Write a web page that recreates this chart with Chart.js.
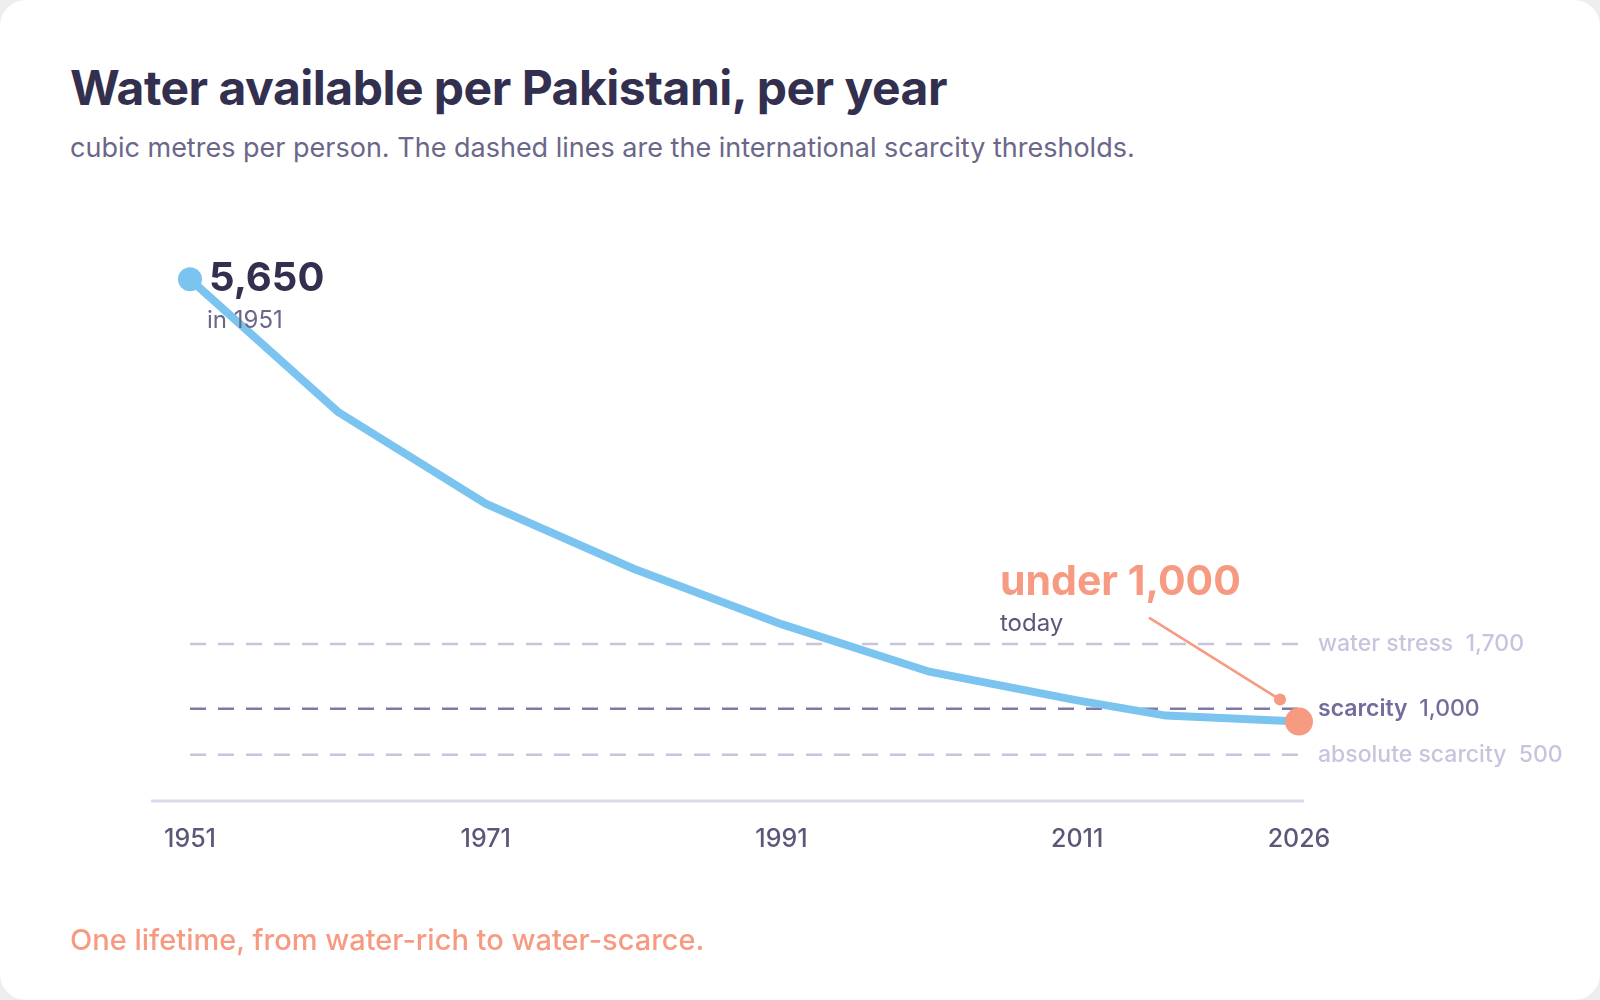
<!DOCTYPE html>
<html><head><meta charset="utf-8">
<script src="https://cdn.jsdelivr.net/npm/chart.js@4"></script>
<style>
html,body{margin:0;padding:0;background:#eeeef0;}
#card{position:absolute;left:0;top:0;width:1600px;height:1000px;background:#fff;border-radius:26px;overflow:hidden;font-family:Inter,sans-serif;}
h1{position:absolute;left:70px;top:58px;margin:0;font-size:48px;font-weight:700;color:#33304f;letter-spacing:-0.5px;}
#sub{position:absolute;left:70px;top:131px;font-size:27px;color:#6b6789;}
#foot{position:absolute;left:70px;top:922px;font-size:29px;color:#f79a82;font-weight:500;}
canvas{position:absolute;left:0;top:0;}
</style></head><body>
<div id="card">
<h1>Water available per Pakistani, per year</h1>
<div id="sub">cubic metres per person. The dashed lines are the international scarcity thresholds.</div>
<canvas id="c" width="1600" height="1000"></canvas>
<div id="foot">One lifetime, from water-rich to water-scarce.</div>
</div>
<script>
const years=[1951,1961,1971,1981,1991,2001,2011,2017,2026];
const water=[5650,4215,3220,2515,1915,1400,1090,925,860];
const tickYears=[1951,1971,1991,2011,2026];
const thresholdNames=["water stress","scarcity","absolute scarcity"];
const thresholdValues=[1700,1000,500];
const thresholdLabels=["1,700","1,000","500"];

const F='Inter, sans-serif';
const thrColors=['#c9c4de','#7f79a6','#c9c4de'];
const thrText=['#c9c4de','#736d9c','#c9c4de'];
const ds=[{data:years.map((y,i)=>({x:y,y:water[i]})),borderColor:'#7cc4f0',borderWidth:8,pointRadius:0,tension:0,order:0}];
thresholdValues.forEach((v,i)=>ds.push({data:[{x:years[0],y:v},{x:years[years.length-1],y:v}],borderColor:thrColors[i],borderWidth:2.5,borderDash:[16,12],pointRadius:0,order:1}));

const plug={id:'deco',
beforeDatasetsDraw(ch){const c=ch.ctx,xs=ch.scales.x,ys=ch.scales.y;
 c.save();c.strokeStyle='#ddd9ec';c.lineWidth=3;const y0=ys.getPixelForValue(0);
 c.beginPath();c.moveTo(xs.getPixelForValue(years[0])-39,y0);c.lineTo(xs.getPixelForValue(2026)+5,y0);c.stroke();
 c.fillStyle='#5b5778';c.font='500 25px '+F;c.textAlign='center';c.textBaseline='middle';
 tickYears.forEach(t=>c.fillText(String(t),xs.getPixelForValue(t),y0+38));
 c.restore();},
afterDatasetsDraw(ch){const c=ch.ctx,xs=ch.scales.x,ys=ch.scales.y;c.save();
 const xe=xs.getPixelForValue(2026);
 c.textBaseline='middle';c.textAlign='left';
 thresholdValues.forEach((v,i)=>{const y=ys.getPixelForValue(v);
  c.font=(i==1?'600 ':'500 ')+'23px '+F;c.fillStyle=thrText[i];
  const n=thresholdNames[i];c.fillText(n,xe+19,y);
  const w=c.measureText(n+'  ').width;c.font='500 23px '+F;c.fillText(thresholdLabels[i],xe+19+w,y);});
 // start point
 const sx=xs.getPixelForValue(years[0]),sy=ys.getPixelForValue(water[0]);
 c.fillStyle='#7cc4f0';c.beginPath();c.arc(sx,sy,12,0,Math.PI*2);c.fill();
 c.fillStyle='#33304f';c.font='700 40px '+F;c.fillText('5,650',sx+19,sy);
 c.fillStyle='#6b6789';c.font='400 24px '+F;c.fillText('in 1951',sx+17,sy+41);
 // end
 const ex=xe,ey=ys.getPixelForValue(water[water.length-1]);
 const ax=ex-19,ay=ey-22;
 c.strokeStyle='#f79a82';c.lineWidth=2.5;c.beginPath();c.moveTo(ex-150,ey-104);c.lineTo(ax,ay);c.stroke();
 c.fillStyle='#f79a82';c.beginPath();c.arc(ax,ay,6,0,Math.PI*2);c.fill();
 c.beginPath();c.arc(ex,ey,14,0,Math.PI*2);c.fill();
 c.font='700 41px '+F;c.fillText('under 1,000',1000,ey-139);
 c.fillStyle='#5b5778';c.font='400 24px '+F;c.fillText('today',1000,ey-98);
 c.restore();}};

new Chart(document.getElementById('c'),{type:'line',data:{datasets:ds},
options:{responsive:false,animation:false,events:[],
layout:{padding:{left:190,right:301,top:247,bottom:199}},
plugins:{legend:{display:false},tooltip:{enabled:false}},
scales:{x:{type:'linear',min:1951,max:2026,display:false},y:{min:0,max:6000,display:false}}},
plugins:[plug]});
</script></body></html>
